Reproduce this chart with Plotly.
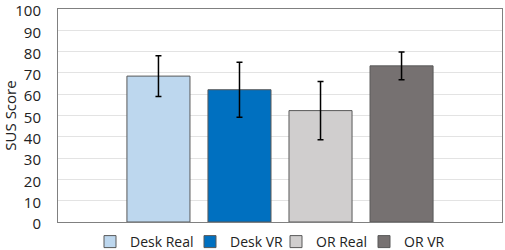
import plotly.graph_objects as go

series = ["Desk Real", "Desk VR", "OR Real", "OR VR"]
means = [68.5, 62.1, 52.3, 73.3]
errors = [9.6, 12.9, 13.7, 6.5]
colors = ["#BDD7EE", "#0070C0", "#D0CECE", "#767171"]
yticks = list(range(0, 101, 10))

# legend entry anchors (text start in px, from the reference)
legend_text_x = [128, 228, 314, 402]
W, H = 505, 250

fig = go.Figure()
legend_ids = ["legend", "legend2", "legend3", "legend4"]
for name, m, e, c, lid in zip(series, means, errors, colors, legend_ids):
    fig.add_trace(go.Bar(
        x=[0], y=[m], name=name, legend=lid,
        marker=dict(color=c, line=dict(color="#595959", width=1)),
        error_y=dict(type="data", array=[e], color="black", thickness=1.5, width=3),
    ))

legend_common = dict(orientation="h", xanchor="left", xref="container",
                     y=0.032, yanchor="middle", yref="container",
                     font=dict(size=14), itemwidth=30, bgcolor="rgba(0,0,0,0)")
layout_legends = {}
for lid, tx in zip(legend_ids, legend_text_x):
    layout_legends[lid] = dict(legend_common, x=(tx - 38) / W)

fig.update_layout(
    width=W, height=H,
    margin=dict(l=58, r=3, t=9, b=28, autoexpand=False),
    barmode="group", bargap=0.27, bargroupgap=0.222,
    plot_bgcolor="white", paper_bgcolor="white",
    font=dict(family="Open Sans", size=14, color="#222"),
    showlegend=True,
    xaxis=dict(showticklabels=False, showgrid=False, showline=True, mirror=True,
               linecolor="#808080", linewidth=1, range=[-0.5, 0.5], zeroline=False,
               automargin=False),
    yaxis=dict(range=[0, 100], tickvals=yticks, showgrid=True, gridcolor="#E3E3E3",
               showline=True, mirror=True, linecolor="#808080", linewidth=1,
               zeroline=False, ticks="", automargin=False, ticklabeloverflow="allow",
               ticklabelstandoff=13, ticklabelshift=2,
               title=dict(text="SUS Score", font=dict(size=15), standoff=8),
               tickfont=dict(size=15)),
    **layout_legends,
)

fig.write_html("out.html", config={"displayModeBar": False},
               post_script="document.body.style.margin='0';document.body.style.overflow='hidden';")
